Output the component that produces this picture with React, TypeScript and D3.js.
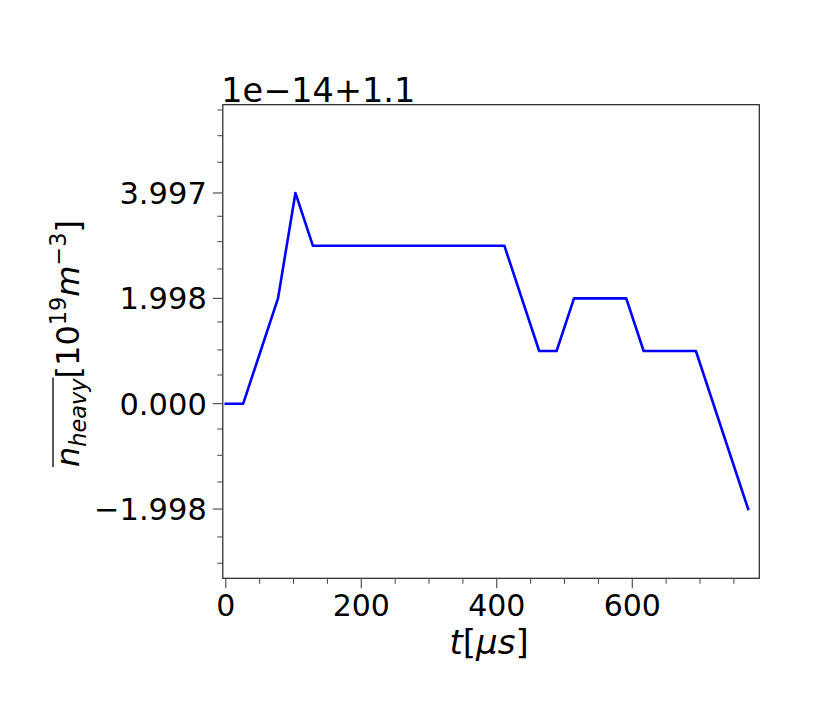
import React, { useEffect, useRef } from "react";
import * as d3 from "d3";

// ---- data (values in units of 1e-14, offset 1.1) ----
const times = [0, 25.7, 77.1, 102.8, 128.5, 411.2, 462.6, 488.3, 514.0, 591.1, 616.8, 693.9, 771.0];
const values = [0, 0, 1.998, 3.997, 2.997, 2.997, 0.999, 0.999, 1.998, 1.998, 0.999, 0.999, -1.998];

const xMajorTicks = [0, 200, 400, 600];
const xMinorTicks = [50, 100, 150, 250, 300, 350, 450, 500, 550, 650, 700, 750];
const yMajorTicks = [-1.998, 0, 1.998, 3.997];
const yMajorLabels = ["\u22121.998", "0.000", "1.998", "3.997"];
const yMinorTicks = [5.571, 5.083, 4.579, 3.555, 3.073, 2.555, 1.55, 1.019, 0.544, -0.48, -0.979, -1.485, -2.528, -3.027];
const offsetText = "1e\u221214+1.1";

const W = 830;
const H = 714;
const L = 222.8;
const R = 759.3;
const T = 104.7;
const B = 578.3;
const FONT = "DejaVu Sans";

export default function App() {
  const ref = useRef<SVGSVGElement | null>(null);

  useEffect(() => {
    const svg = d3.select(ref.current);
    svg.selectAll("*").remove();

    const x = d3.scaleLinear().domain([-4.4, 787.5]).range([L, R]);
    const y = d3.scaleLinear().domain([-3.312, 5.671]).range([B, T]);

    const g = svg.append("g");

    // line
    const line = d3
      .line<number>()
      .x((_, i) => x(times[i]))
      .y((d) => y(d));
    g.append("path")
      .datum(values)
      .attr("d", line)
      .attr("fill", "none")
      .attr("stroke", "#0000ff")
      .attr("stroke-width", 2.6)
      .attr("stroke-linejoin", "round")
      .attr("stroke-linecap", "square");

    // spines
    g.append("rect")
      .attr("x", L)
      .attr("y", T)
      .attr("width", R - L)
      .attr("height", B - T)
      .attr("fill", "none")
      .attr("stroke", "#222")
      .attr("stroke-width", 1.2);

    const tickColor = "#444";
    // x ticks
    xMajorTicks.forEach((v) => {
      g.append("line")
        .attr("x1", x(v)).attr("x2", x(v))
        .attr("y1", B).attr("y2", B + 10)
        .attr("stroke", tickColor).attr("stroke-width", 1.1);
      g.append("text")
        .attr("x", x(v))
        .attr("y", B + 38)
        .attr("text-anchor", "middle")
        .attr("font-family", FONT)
        .attr("font-size", 30)
        .attr("fill", "#000")
        .text(String(v));
    });
    xMinorTicks.forEach((v) => {
      g.append("line")
        .attr("x1", x(v)).attr("x2", x(v))
        .attr("y1", B).attr("y2", B + 5.5)
        .attr("stroke", tickColor).attr("stroke-width", 1);
    });

    // y ticks
    yMajorTicks.forEach((v, i) => {
      g.append("line")
        .attr("x1", L - 10).attr("x2", L)
        .attr("y1", y(v)).attr("y2", y(v))
        .attr("stroke", tickColor).attr("stroke-width", 1.1);
      g.append("text")
        .attr("x", L - 16)
        .attr("y", y(v) + 11)
        .attr("text-anchor", "end")
        .attr("font-family", FONT)
        .attr("font-size", 30.5)
        .attr("fill", "#000")
        .text(yMajorLabels[i]);
    });
    yMinorTicks.forEach((v) => {
      g.append("line")
        .attr("x1", L - 5.5).attr("x2", L)
        .attr("y1", y(v)).attr("y2", y(v))
        .attr("stroke", tickColor).attr("stroke-width", 1);
    });

    // offset text
    g.append("text")
      .attr("x", L - 1.5)
      .attr("y", 102)
      .attr("font-family", FONT)
      .attr("font-size", 33.5)
      .attr("fill", "#000")
      .text(offsetText);

    // x label t[μs]
    const xl = g.append("text")
      .attr("x", (L + R) / 2 - 2)
      .attr("y", 654)
      .attr("text-anchor", "middle")
      .attr("font-family", FONT)
      .attr("font-size", 34)
      .attr("fill", "#000");
    xl.append("tspan").attr("font-style", "italic").text("t");
    xl.append("tspan").text("[");
    xl.append("tspan").attr("font-style", "italic").text("\u03bcs");
    xl.append("tspan").text("]");

    // y label
    const yg = g.append("g").attr("transform", `translate(79,${(T + B) / 2 + 2}) rotate(-90)`);
    const yl = yg.append("text")
      .attr("x", 0)
      .attr("y", 0)
      .attr("text-anchor", "middle")
      .attr("font-family", FONT)
      .attr("font-size", 32)
      .attr("fill", "#000");
    yl.append("tspan").attr("font-style", "italic").text("n");
    yl.append("tspan").attr("font-style", "italic").attr("font-size", 22.4).attr("dy", 6.5).text("heavy");
    yl.append("tspan").attr("dy", -6.5).text("[10");
    yl.append("tspan").attr("font-size", 22.4).attr("dy", -13).text("19");
    yl.append("tspan").attr("font-style", "italic").attr("dy", 13).text("m");
    yl.append("tspan").attr("font-size", 22.4).attr("dy", -13).text("\u22123");
    yl.append("tspan").attr("dy", 13).text("]");

    const node = yl.node() as SVGTextElement;
    try {
      const s = node.getStartPositionOfChar(0);
      const e = node.getEndPositionOfChar(5);
      yg.append("line")
        .attr("x1", s.x)
        .attr("x2", e.x + 1)
        .attr("y1", -26)
        .attr("y2", -26)
        .attr("stroke", "#000")
        .attr("stroke-width", 1.3);
    } catch (err) {
      // ignore
    }
  }, []);

  return (
    <svg
      ref={ref}
      width={W}
      height={H}
      style={{ position: "absolute", left: 0, top: 0, background: "#fff" }}
    />
  );
}
